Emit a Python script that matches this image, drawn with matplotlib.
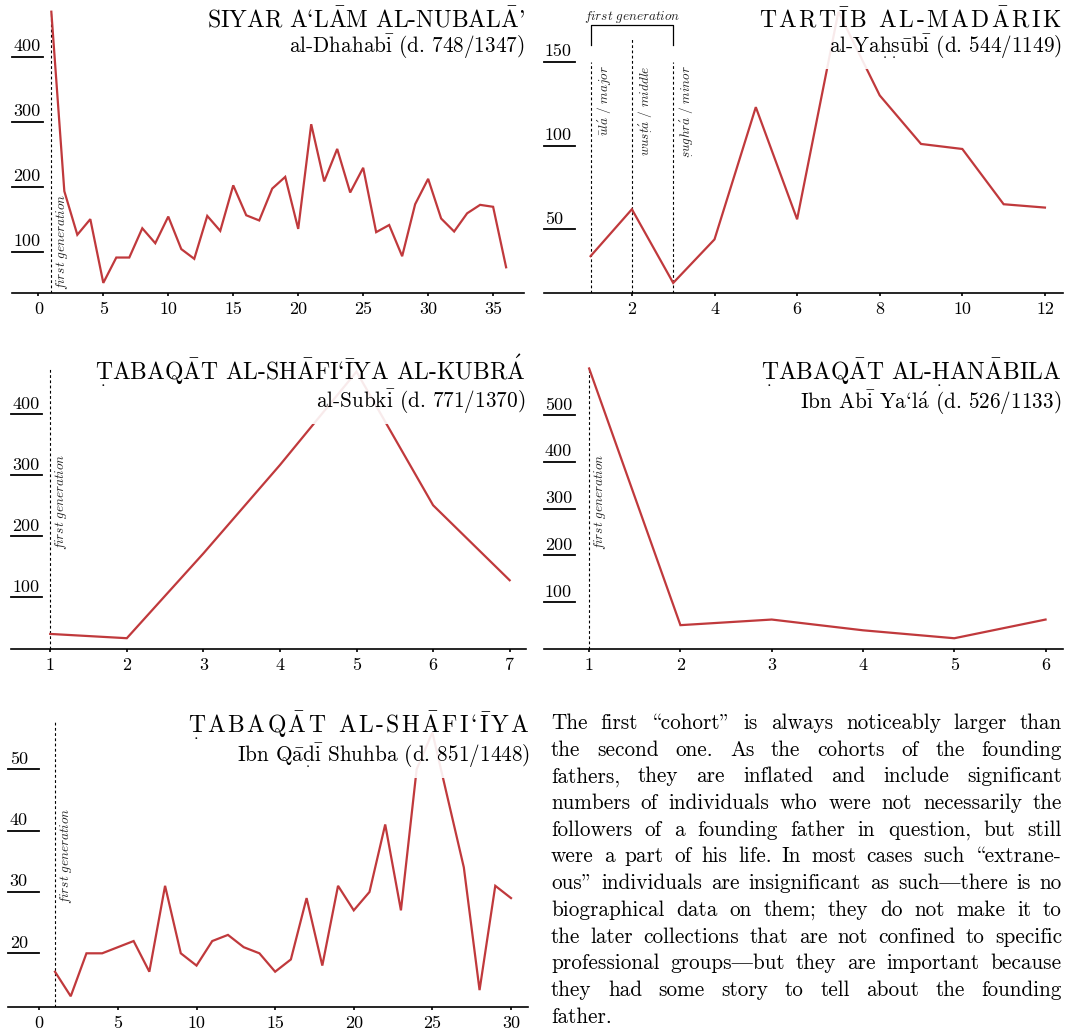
import matplotlib
matplotlib.use('Agg')
import matplotlib.pyplot as plt
from matplotlib.patches import Rectangle
from matplotlib.transforms import IdentityTransform, offset_copy

plt.rcParams['font.family'] = ['cmr10', 'DejaVu Serif']
plt.rcParams['mathtext.fontset'] = 'cm'
plt.rcParams['axes.unicode_minus'] = False

RED = '#c0393c'
W, H = 1068, 1032

# --- data ---
siyar_y = [469, 193, 126, 150, 52, 91, 91, 136, 113, 154, 104, 89, 155, 132, 202, 156, 148, 197,
           215, 135, 296, 208, 258, 191, 229, 130, 141, 93, 173, 212, 151, 131, 159, 172, 169, 76]
madarik_y = [34, 62, 18, 44, 123, 56, 180, 130, 101, 98, 65, 63]
kubra_y = [40, 33, 172, 317, 470, 251, 128]
hanabila_y = [600, 51, 63, 40, 23, 63]
shafiiya_y = [17, 13, 20, 20, 21, 22, 17, 31, 20, 18, 22, 23, 21, 20, 17, 19, 29, 18, 31, 27,
              30, 41, 27, 50, 56, 45, 34, 14, 31, 29]

titles = ['SIYAR A‘LĀM AL-NUBALĀ’', 'TARTĪB AL-MADĀRIK', 'ṬABAQĀT AL-SHĀFI‘ĪYA AL-KUBRÁ',
          'ṬABAQĀT AL-ḤANĀBILA', 'ṬABAQĀT AL-SHĀFI‘ĪYA']
authors = ['al-Dhahabī (d. 748/1347)', 'al-Yaḥṣūbī (d. 544/1149)', 'al-Subkī (d. 771/1370)',
           'Ibn Abī Ya‘lá (d. 526/1133)', 'Ibn Qāḍī Shuhba (d. 851/1448)']
spaced = [False, True, False, False, True]

xticks = [range(0, 36, 5), range(2, 13, 2), range(1, 8), range(1, 7), range(0, 31, 5)]
yticks = [[100, 200, 300, 400], [50, 100, 150], [100, 200, 300, 400],
          [100, 200, 300, 400, 500], [20, 30, 40, 50]]
series = [siyar_y, madarik_y, kubra_y, hanabila_y, shafiiya_y]

tabaqa_labels = [r'$\mathit{\bar{u}l\acute{a}\ \mathrm{/}\ major}$',
                 r'$\mathit{wus\underset{.}{t}\acute{a}\ \mathrm{/}\ middle}$',
                 r'$\mathit{\underset{.}{s}ughr\acute{a}\ \mathrm{/}\ minor}$']

# cmr10 is OT1 encoded: \ -> opening double quote, " -> closing one, | -> em dash
para = ['The first \\cohort" is always noticeably larger than',
        'the second one. As the cohorts of the founding',
        'fathers, they are inflated and include significant',
        'numbers of individuals who were not necessarily the',
        'followers of a founding father in question, but still',
        'were a part of his life. In most cases such \\extrane-',
        'ous" individuals are insignificant as such|there is no',
        'biographical data on them; they do not make it to',
        'the later collections that are not confined to specific',
        'professional groups|but they are important because',
        'they had some story to tell about the founding',
        'father.']

# --- layout (pixels) ---
boxes = [(11.7, 11.7, 524.3, 293.3), (543.5, 11.7, 1062.7, 293.3), (11.2, 368, 526.5, 649),
         (543.5, 368, 1062.9, 649), (8.3, 722, 528.3, 1007.3)]
xlims = [(-2.05, 37.4), (-0.14, 12.43), (0.49, 7.22), (0.50, 6.19), (-1.97, 31.1)]
ylims = [(36, 469), (11.8, 180), (15.3, 476), (0, 601), (11.2, 57.7)]
title_pos = [(525, 27.3, 53.3), (1062, 27.3, 53.3), (525.5, 380.2, 408.2),
             (1061.5, 380.8, 408.8), (530, 733.5, 761.5)]
firstgen_y = [41, None, 178, 211, 28.1]

ACC = {'Ā': r'\bar{\mathrm{A}}', 'Ī': r'\bar{\mathrm{I}}', 'ā': r'\bar{\mathrm{a}}',
       'ī': r'\bar{\mathrm{i}}', 'ū': r'\bar{\mathrm{u}}', 'á': r'\acute{\mathrm{a}}',
       'Á': r'\acute{\mathrm{A}}', 'Ṭ': r'\underset{.}{\mathrm{T}}',
       'Ḥ': r'\underset{.}{\mathrm{H}}', 'ḥ': r'\underset{.}{\mathrm{h}}',
       'ṣ': r'\underset{.}{\mathrm{s}}', 'ḍ': r'\underset{.}{\mathrm{d}}'}


def tex(s, space=False):
    parts = []
    for c in s:
        if c in ACC:
            parts.append('$' + ACC[c] + '$')
        elif c == '‘':
            parts.append('`')
        elif c == '’':
            parts.append("'")
        else:
            parts.append(c)
    sep = r'$\hspace{0.12}$' if space else ''
    return sep.join(parts).replace('$$', '')


fig = plt.figure(figsize=(W / 100, H / 100), dpi=100)
rend = fig.canvas.get_renderer()

for i in range(5):
    l, t, r, b = boxes[i]
    ax = fig.add_axes([l / W, 1 - b / H, (r - l) / W, (b - t) / H])
    ys = series[i]
    xs = list(range(1, len(ys) + 1))
    ax.plot(xs, ys, color=RED, lw=1.6, clip_on=False, zorder=2, solid_joinstyle='miter')
    ax.set_xlim(*xlims[i])
    ax.set_ylim(*ylims[i])
    for s in ['left', 'top', 'right']:
        ax.spines[s].set_visible(False)
    ax.spines['bottom'].set_linewidth(1.2)
    ax.set_yticks([])
    ax.set_xticks(list(xticks[i]))
    ax.tick_params(axis='x', length=2.5, width=1.2, labelsize=13, pad=3.5)

    # y ticks drawn as short bars with the label sitting on top
    frac = 31 / (r - l)
    bt = ax.get_yaxis_transform()
    for v in yticks[i]:
        ax.plot([0, frac], [v, v], color='black', lw=1.3, transform=bt, clip_on=False)
        ax.annotate(str(v), xy=(0, v), xycoords=bt, xytext=(1, 4), textcoords='offset points',
                    fontsize=13, va='baseline', ha='left')

    if i == 1:
        tops = [150, 164, 150]
        for k, xv in enumerate([1, 2, 3]):
            ax.plot([xv, xv], [ylims[i][0], tops[k]], color='black', lw=0.8,
                    dashes=(2.5, 2.2), zorder=1)
            ax.text(xv, 148, tabaqa_labels[k], rotation=90, ha='left', va='top', fontsize=9.5,
                    color='#222222',
                    transform=offset_copy(ax.transData, fig=fig, x=4, y=0, units='dots'))
        ax.plot([1, 1, 3, 3], [160, 172, 172, 160], color='black', lw=0.9, clip_on=False)
        ax.text(2, 177, r'$\mathit{first\ generation}$', ha='center', va='center',
                fontsize=9.5, color='#222222')
    else:
        ax.axvline(1, color='black', lw=0.8, dashes=(2.5, 2.2), zorder=1)
        ax.text(1, firstgen_y[i], r'$\mathit{first\ generation}$', rotation=90, ha='left',
                va='bottom', fontsize=9.5, color='#222222',
                transform=offset_copy(ax.transData, fig=fig, x=3, y=0, units='dots'))

    xr, yb1, yb2 = title_pos[i]
    t1 = fig.text(xr / W, 1 - yb1 / H, tex(titles[i], spaced[i]), fontsize=17,
                  ha='right', va='baseline', zorder=5)
    t2 = fig.text(xr / W, 1 - yb2 / H, tex(authors[i]), fontsize=15.3,
                  ha='right', va='baseline', zorder=5)
    e1 = t1.get_window_extent(rend)
    e2 = t2.get_window_extent(rend)
    x0 = min(e1.x0, e2.x0) - 4
    y0 = e2.y0 - 8
    y1 = e1.y1 + 4
    fig.add_artist(Rectangle((x0, y0), xr + 2 - x0, y1 - y0, transform=IdentityTransform(),
                             facecolor='white', edgecolor='none', alpha=0.9, zorder=4))

# justified paragraph
x_left, x_right = 551, 1062
for n, line in enumerate(para):
    yb = 729 + n * 26.7
    words = line.split(' ')
    ts = [fig.text(0, 1 - yb / H, w, fontsize=15.3, va='baseline', ha='left') for w in words]
    ws = [tt.get_window_extent(rend).width for tt in ts]
    if n == len(para) - 1 or len(words) == 1:
        gap = 5
    else:
        gap = (x_right - x_left - sum(ws)) / (len(words) - 1)
    xx = x_left
    for tt, w in zip(ts, ws):
        tt.set_x(xx / W)
        xx += w + gap

fig.savefig('out.png', dpi=100)
